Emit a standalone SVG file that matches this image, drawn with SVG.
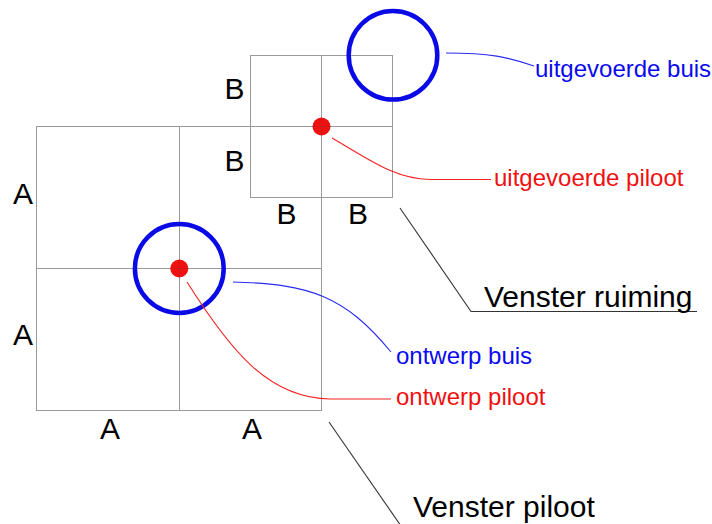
<svg xmlns="http://www.w3.org/2000/svg" width="712" height="524" viewBox="0 0 712 524">
<style>
.grid{fill:none;stroke:#9a9a9a;stroke-width:1}
.ring{fill:none;stroke:#0a0ae6;stroke-width:4.5}
.dot{fill:#f01010}
.lbl{font-family:"Liberation Sans",Arial,sans-serif;font-size:30px;fill:#000}
.ann{font-family:"Liberation Sans",Arial,sans-serif;font-size:24px}
.blue{fill:#0a0af0}
.red{fill:#f01010}
.lb{fill:none;stroke:#2a2af5;stroke-width:1.1}
.lr{fill:none;stroke:#f52020;stroke-width:1.1}
.lk{fill:none;stroke:#333;stroke-width:1.1}
</style>
<rect width="712" height="524" fill="#fff"/>
<g id="venster-piloot-grid">
<rect class="grid" x="36.5" y="126.5" width="285" height="284"/>
<line class="grid" x1="179.5" y1="126.5" x2="179.5" y2="410.5"/>
<line class="grid" x1="36.5" y1="268.5" x2="321.5" y2="268.5"/>
</g>
<g id="venster-ruiming-grid">
<rect class="grid" x="250.5" y="55.5" width="142" height="142"/>
<line class="grid" x1="321.5" y1="55.5" x2="321.5" y2="197.5"/>
<line class="grid" x1="250.5" y1="126.5" x2="392.5" y2="126.5"/>
</g>
<g id="ontwerp-piloot-dot"><circle class="dot" cx="179.3" cy="268.5" r="9"/><path d="M170.3 268.5H188.3M179.3 259.5V277.5" stroke="#7a3030" stroke-width="0.6" opacity="0.5"/></g>
<g id="uitgevoerde-piloot-dot"><circle class="dot" cx="321.5" cy="126.5" r="9"/><path d="M312.5 126.5H330.5M321.5 117.5V135.5" stroke="#7a3030" stroke-width="0.6" opacity="0.5"/></g>
<g id="ontwerp-buis-ring"><circle class="ring" cx="179.3" cy="268.5" r="44.4"/></g>
<g id="uitgevoerde-buis-ring"><circle class="ring" cx="393" cy="55.3" r="44.3"/></g>
<g id="connectors">
<path class="lb" d="M446 53 C490 53 508 57 534 66"/>
<path class="lr" d="M332 138 C370 160 395 179 430 179.5 L491 179.5"/>
<path class="lb" d="M233 282 C310 284 345 296 391 352"/>
<path class="lr" d="M187 282 C230 350 268 398 330 399 L391 399"/>
<path class="lk" d="M400 208 L471 311.5 L697 311.5"/>
<path class="lk" d="M329 422 L401 526"/>
</g>
<g id="dimension-labels">
<text class="lbl" x="23" y="204" text-anchor="middle">A</text>
<text class="lbl" x="23" y="345" text-anchor="middle">A</text>
<text class="lbl" x="110" y="439" text-anchor="middle">A</text>
<text class="lbl" x="252" y="439" text-anchor="middle">A</text>
<text class="lbl" x="234.5" y="99" text-anchor="middle">B</text>
<text class="lbl" x="234.5" y="171" text-anchor="middle">B</text>
<text class="lbl" x="286.5" y="224" text-anchor="middle">B</text>
<text class="lbl" x="358" y="224" text-anchor="middle">B</text>
</g>
<g id="annotations">
<text class="ann blue" x="535" y="77">uitgevoerde buis</text>
<text class="ann red" x="494" y="186">uitgevoerde piloot</text>
<text class="ann blue" x="396" y="364">ontwerp buis</text>
<text class="ann red" x="396" y="405">ontwerp piloot</text>
<text class="lbl" x="484" y="307">Venster ruiming</text>
<text class="lbl" x="413" y="517">Venster piloot</text>
</g>
</svg>
